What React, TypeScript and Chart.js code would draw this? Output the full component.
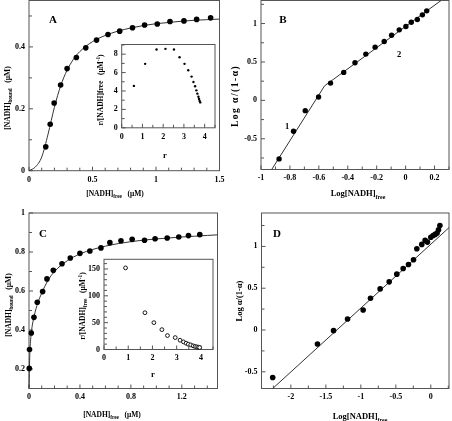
import React, { useEffect, useRef } from 'react';
import { Chart, registerables } from 'chart.js';

Chart.register(...registerables);

const W = 452;
const H = 421;
const FONT = '"Liberation Serif", "Times New Roman", serif';

// ---------- Panel A: binding isotherm ----------
const aX = [0.132, 0.167, 0.198, 0.249, 0.30, 0.373, 0.447, 0.532, 0.622, 0.714, 0.815, 0.910, 1.01, 1.11, 1.22, 1.32, 1.43];
const aY = [0.077, 0.150, 0.219, 0.277, 0.330, 0.366, 0.397, 0.422, 0.440, 0.451, 0.462, 0.471, 0.474, 0.482, 0.484, 0.489, 0.494];
const aFitX = [0, 0.05, 0.1, 0.15, 0.2, 0.25, 0.3, 0.35, 0.4, 0.5, 0.6, 0.7, 0.8, 0.9, 1.0, 1.1, 1.2, 1.3, 1.4, 1.5];
const aFitY = [0, 0.012, 0.044, 0.118, 0.205, 0.275, 0.325, 0.36, 0.385, 0.417, 0.437, 0.451, 0.461, 0.469, 0.475, 0.479, 0.483, 0.486, 0.488, 0.49];

// Inset A: Scatchard
const iaX = [0.59, 1.13, 1.68, 2.11, 2.52, 2.79, 3.03, 3.21, 3.37, 3.46, 3.54, 3.60, 3.65, 3.70, 3.73, 3.76, 3.79];
const iaY = [4.55, 6.95, 8.5, 8.58, 8.5, 7.67, 6.95, 6.25, 5.56, 4.98, 4.51, 4.07, 3.71, 3.38, 3.13, 2.91, 2.76];

// ---------- Panel B: Hill plot ----------
const bX = [-0.875, -0.775, -0.694, -0.602, -0.519, -0.428, -0.350, -0.275, -0.211, -0.148, -0.097, -0.044, 0.002, 0.039, 0.081, 0.116, 0.146];
const bY = [-0.762, -0.403, -0.134, 0.043, 0.225, 0.364, 0.489, 0.602, 0.693, 0.766, 0.848, 0.918, 0.961, 1.017, 1.052, 1.113, 1.165];
const bFitX = [-0.926, -0.56, 0.245];
const bFitY = [-0.9, 0.19, 1.3];

// ---------- Panel C: binding isotherm ----------
const cX = [0.002, 0.004, 0.018, 0.039, 0.065, 0.107, 0.141, 0.191, 0.259, 0.324, 0.40, 0.478, 0.565, 0.635, 0.722, 0.81, 0.907, 0.99, 1.085, 1.176, 1.252, 1.341];
const cY = [0.203, 0.30, 0.385, 0.465, 0.542, 0.597, 0.662, 0.706, 0.74, 0.769, 0.793, 0.805, 0.821, 0.848, 0.858, 0.865, 0.86, 0.868, 0.872, 0.877, 0.884, 0.889];
const cFitX = [0, 0.003, 0.008, 0.018, 0.04, 0.07, 0.1, 0.15, 0.2, 0.3, 0.4, 0.5, 0.6, 0.7, 0.8, 0.9, 1.0, 1.1, 1.2, 1.3, 1.4, 1.48];
const cFitY = [0.1, 0.2, 0.3, 0.385, 0.47, 0.54, 0.59, 0.655, 0.7, 0.755, 0.79, 0.813, 0.83, 0.843, 0.853, 0.861, 0.867, 0.872, 0.877, 0.881, 0.885, 0.888];

// Inset C: Scatchard
const icX = [0.89, 1.69, 2.06, 2.39, 2.62, 2.94, 3.14, 3.28, 3.39, 3.48, 3.58, 3.68, 3.76, 3.83, 3.90, 3.95];
const icY = [152, 68.5, 50, 37, 26, 22.2, 17.3, 14.2, 11.7, 9.9, 8.6, 6.8, 5.6, 4.9, 4.3, 3.7];

// ---------- Panel D: Hill plot ----------
const dX = [-2.26, -1.62, -1.39, -1.19, -0.967, -0.862, -0.724, -0.595, -0.486, -0.395, -0.319, -0.247, -0.2, -0.129, -0.081, -0.048, 0.0, 0.033, 0.062, 0.09, 0.11, 0.13];
const dY = [-0.568, -0.168, -0.008, 0.132, 0.24, 0.38, 0.492, 0.576, 0.668, 0.736, 0.784, 0.84, 0.972, 1.024, 1.072, 1.052, 1.11, 1.13, 1.144, 1.16, 1.2, 1.25];
const dFitX = [-2.26, 0.26];
const dFitY = [-0.7, 1.225];

// ---------- Tick labels ----------
const aXTicks = [0, 0.5, 1, 1.5];
const aYTicks = [0, 0.2, 0.4];
const bXTicks = [-1, -0.8, -0.6, -0.4, -0.2, 0, 0.2];
const bYTicks = [-0.5, 0, 0.5, 1];
const cXTicks = [0, 0.4, 0.8, 1.2];
const cYTicks = [0.2, 0.4, 0.6, 0.8, 1];
const dXTicks = [-2, -1.5, -1, -0.5, 0];
const dYTicks = [-0.5, 0, 0.5, 1];
const iaXTicks = [0, 1, 2, 3, 4];
const iaYTicks = [0, 2, 4, 6, 8];
const icXTicks = [0, 1, 2, 3, 4];
const icYTicks = [0, 50, 100, 150];

type Rich = { t: string; sub?: boolean; sup?: boolean };
type TextItem = { parts: Rich[]; x: number; y: number; rot?: number; size?: number; spacing?: number };
type Area = { l: number; t: number; r: number; b: number };

const zip = (xs: number[], ys: number[]) => xs.map((x, i) => ({ x, y: ys[i] }));
const fmt = (v: number) => String(Number(v.toFixed(3)));

function drawRich(ctx: CanvasRenderingContext2D, item: TextItem) {
  const size = item.size ?? 7.5;
  const small = size * 0.7;
  ctx.save();
  ctx.translate(item.x, item.y);
  if (item.rot) ctx.rotate(item.rot);
  ctx.fillStyle = '#000';
  ctx.textBaseline = 'alphabetic';
  ctx.textAlign = 'left';
  (ctx as any).letterSpacing = `${item.spacing ?? 0}px`;
  const fontOf = (p: Rich) => `bold ${p.sub || p.sup ? small : size}px ${FONT}`;
  let total = 0;
  const widths = item.parts.map((p) => {
    ctx.font = fontOf(p);
    const w = ctx.measureText(p.t).width;
    total += w;
    return w;
  });
  let x = -total / 2;
  item.parts.forEach((p, i) => {
    ctx.font = fontOf(p);
    const dy = p.sub ? size * 0.3 : p.sup ? -size * 0.38 : 0;
    ctx.fillText(p.t, x, size * 0.35 + dy);
    x += widths[i];
  });
  ctx.restore();
}

function axis(min: number, max: number, majors: number[]) {
  return {
    type: 'linear' as const,
    min,
    max,
    grid: { display: false, drawTicks: false },
    border: { display: false },
    ticks: {
      autoSkip: false,
      maxRotation: 0,
      minRotation: 0,
      padding: 4,
      color: '#000',
      font: { family: FONT, size: 8, weight: 'bold' as const },
      callback: (v: any) => fmt(Number(v)),
    },
    afterBuildTicks: (s: any) => {
      s.ticks = majors.map((v) => ({ value: v }));
    },
    afterFit: (s: any) => {
      if (s.isHorizontal()) s.height = 20;
      else s.width = 20;
      s.paddingLeft = 0;
      s.paddingRight = 0;
      s.paddingTop = 0;
      s.paddingBottom = 0;
    },
  };
}

type PanelCfg = {
  area: Area;
  x: [number, number, number[], number];
  y: [number, number, number[], number];
  datasets: any[];
  texts: TextItem[];
  white?: boolean;
};

function framePlugin(cfg: PanelCfg) {
  const isMajor = (v: number, majors: number[]) => majors.some((m) => Math.abs(m - v) < 1e-6);
  return {
    id: 'frameTicks',
    beforeDatasetsDraw(chart: any) {
      const { ctx, chartArea: ca } = chart;
      const xs = chart.scales.x;
      const ys = chart.scales.y;
      ctx.save();
      if (cfg.white) {
        ctx.fillStyle = '#fff';
        ctx.fillRect(ca.left, ca.top, ca.right - ca.left, ca.bottom - ca.top);
      }
      ctx.strokeStyle = '#555';
      ctx.lineWidth = 1;
      ctx.strokeRect(ca.left, ca.top, ca.right - ca.left, ca.bottom - ca.top);
      ctx.beginPath();
      const [xmin, xmax, xmaj, xstep] = cfg.x;
      for (let k = Math.ceil(xmin / xstep - 1e-6); k * xstep <= xmax + 1e-9; k++) {
        const v = k * xstep;
        const px = xs.getPixelForValue(v);
        const len = isMajor(v, xmaj) ? 4 : 3;
        ctx.moveTo(px, ca.bottom);
        ctx.lineTo(px, ca.bottom - len);
      }
      const [ymin, ymax, ymaj, ystep] = cfg.y;
      for (let k = Math.ceil(ymin / ystep - 1e-6); k * ystep <= ymax + 1e-9; k++) {
        const v = k * ystep;
        const py = ys.getPixelForValue(v);
        const len = isMajor(v, ymaj) ? 4 : 3;
        ctx.moveTo(ca.left, py);
        ctx.lineTo(ca.left + len, py);
      }
      ctx.stroke();
      ctx.restore();
    },
    afterDraw(chart: any) {
      const ctx = chart.ctx;
      cfg.texts.forEach((t) => drawRich(ctx, t));
    },
  };
}

function makeChart(canvas: HTMLCanvasElement, cfg: PanelCfg) {
  const { l, t, r, b } = cfg.area;
  return new Chart(canvas, {
    type: 'scatter',
    data: { datasets: cfg.datasets },
    options: {
      responsive: false,
      animation: false,
      devicePixelRatio: 1,
      events: [],
      layout: {
        autoPadding: false,
        padding: { left: l - 20, top: t, right: W - r, bottom: H - b - 20 },
      } as any,
      plugins: { legend: { display: false }, tooltip: { enabled: false } },
      scales: {
        x: axis(cfg.x[0], cfg.x[1], cfg.x[2]) as any,
        y: axis(cfg.y[0], cfg.y[1], cfg.y[2]) as any,
      },
    },
    plugins: [framePlugin(cfg)],
  });
}

const dots = (xs: number[], ys: number[], r: number) => ({
  data: zip(xs, ys),
  showLine: false,
  pointRadius: r,
  pointBackgroundColor: '#000',
  pointBorderColor: '#000',
  pointBorderWidth: 0,
  clip: false,
});
const rings = (xs: number[], ys: number[], r: number) => ({
  data: zip(xs, ys),
  showLine: false,
  pointRadius: r,
  pointBackgroundColor: '#fff',
  pointBorderColor: '#000',
  pointBorderWidth: 0.9,
  clip: false,
});
const fit = (xs: number[], ys: number[], smooth: boolean) => ({
  data: zip(xs, ys),
  showLine: true,
  pointRadius: 0,
  borderColor: '#333',
  borderWidth: 1,
  cubicInterpolationMode: smooth ? 'monotone' : 'default',
  clip: false,
});

const nadhBound = (x: number, y: number): TextItem => ({
  parts: [{ t: '[NADH]' }, { t: 'bound', sub: true }, { t: '   (\u03BCM)' }],
  x, y, rot: -Math.PI / 2,
});
const nadhFree = (x: number, y: number): TextItem => ({
  parts: [{ t: '[NADH]' }, { t: 'free', sub: true }, { t: '   (\u03BCM)' }],
  x, y,
});
const logFree = (x: number, y: number): TextItem => ({
  parts: [{ t: 'Log[NADH]' }, { t: 'free', sub: true }],
  x, y, size: 8.5,
});
const logAlpha = (x: number, y: number, size: number, spacing: number): TextItem => ({
  parts: [{ t: 'Log \u03B1/(1-\u03B1)' }],
  x, y, rot: -Math.PI / 2, size, spacing,
});
const letter = (s: string, x: number, y: number): TextItem => ({ parts: [{ t: s }], x, y, size: 11 });

const panels: PanelCfg[] = [
  {
    area: { l: 29, t: 0.5, r: 219.5, b: 170.7 },
    x: [0, 1.5, aXTicks, 0.1],
    y: [0, 0.55, aYTicks, 0.1],
    datasets: [dots(aX, aY, 2.8), fit(aFitX, aFitY, true)],
    texts: [letter('A', 53, 19), nadhFree(115, 193), nadhBound(7, 98)],
  },
  {
    area: { l: 261, t: 0.5, r: 449, b: 169.5 },
    x: [-1, 0.3, bXTicks, 0.1],
    y: [-0.9, 1.3, bYTicks, 0.25],
    datasets: [dots(bX, bY, 2.7), fit(bFitX, bFitY, false)],
    texts: [
      letter('B', 283, 19),
      { parts: [{ t: '1' }], x: 287, y: 126, size: 8.5 },
      { parts: [{ t: '2' }], x: 399, y: 54, size: 8.5 },
      logFree(358, 193),
      logAlpha(235, 96, 9.5, 1.5),
    ],
  },
  {
    area: { l: 29, t: 213, r: 217.5, b: 388.5 },
    x: [0, 1.48, cXTicks, 0.1],
    y: [0.1, 1.0, cYTicks, 0.1],
    datasets: [dots(cX, cY, 2.8), fit(cFitX, cFitY, true)],
    texts: [letter('C', 43, 233), nadhFree(112, 414), nadhBound(8, 305)],
  },
  {
    area: { l: 261.5, t: 213, r: 449, b: 388.5 },
    x: [-2.42, 0.26, dXTicks, 0.25],
    y: [-0.7, 1.4, dYTicks, 0.25],
    datasets: [dots(dX, dY, 2.8), fit(dFitX, dFitY, false)],
    texts: [letter('D', 277, 233), logFree(360, 416), logAlpha(239, 301, 8.5, 0)],
  },
  {
    area: { l: 121.7, t: 44.5, r: 215, b: 127.8 },
    x: [0, 4.5, iaXTicks, 0.5],
    y: [0, 9.05, iaYTicks, 1],
    datasets: [dots(iaX, iaY, 1.2)],
    white: true,
    texts: [
      { parts: [{ t: 'r' }], x: 165, y: 155, size: 8.5 },
      {
        parts: [{ t: 'r/[NADH]free   (\u03BCM' }, { t: '-1', sup: true }, { t: ')' }],
        x: 100, y: 90, rot: -Math.PI / 2,
      },
    ],
  },
  {
    area: { l: 104, t: 259.3, r: 213, b: 349.5 },
    x: [0, 4.5, icXTicks, 0.5],
    y: [0, 168, icYTicks, 10],
    datasets: [rings(icX, icY, 1.9)],
    white: true,
    texts: [
      { parts: [{ t: 'r' }], x: 153, y: 374, size: 8.5 },
      {
        parts: [{ t: 'r/[NADH]' }, { t: 'free', sub: true }, { t: '   (\u03BCM' }, { t: '-1', sup: true }, { t: ')' }],
        x: 82, y: 306, rot: -Math.PI / 2,
      },
    ],
  },
];

export default function App() {
  const refs = useRef<(HTMLCanvasElement | null)[]>([]);
  useEffect(() => {
    const charts = panels.map((p, i) => makeChart(refs.current[i] as HTMLCanvasElement, p));
    return () => charts.forEach((c) => c.destroy());
  }, []);
  return (
    <div style={{ position: 'absolute', left: 0, top: 0, width: W, height: H, background: '#fff', overflow: 'hidden' }}>
      {panels.map((_, i) => (
        <canvas
          key={i}
          ref={(el) => {
            refs.current[i] = el;
          }}
          width={W}
          height={H}
          style={{ position: 'absolute', left: 0, top: 0, width: W, height: H }}
        />
      ))}
    </div>
  );
}
